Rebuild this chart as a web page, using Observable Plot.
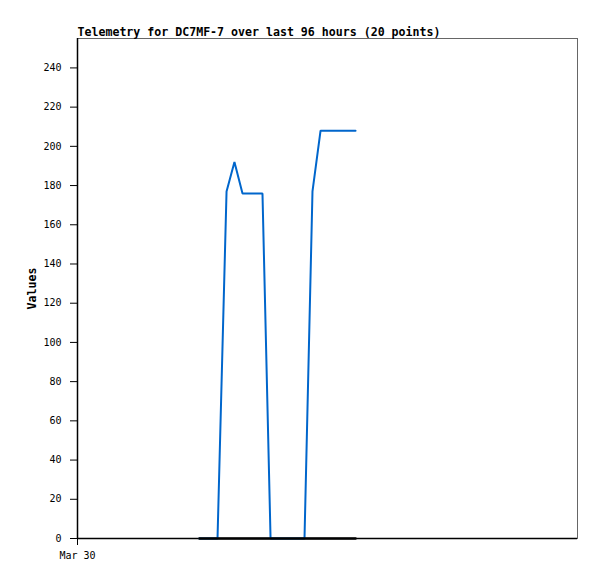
<!DOCTYPE html>
<html>
<head>
<meta charset="utf-8">
<script src="https://cdn.jsdelivr.net/npm/d3@7"></script>
<script src="https://cdn.jsdelivr.net/npm/@observablehq/plot@0.6"></script>
<style>
  html, body { margin: 0; padding: 0; background: #fff; }
  #chart svg { display: block; }
</style>
</head>
<body>
<div id="chart"></div>
<script>
const title = "Telemetry for DC7MF-7 over last 96 hours (20 points)";
const yLabel = "Values";
const times = [
  "2024-03-30T23:25Z", "2024-03-31T00:35Z", "2024-03-31T01:44Z", "2024-03-31T02:53Z",
  "2024-03-31T04:37Z", "2024-03-31T06:08Z", "2024-03-31T07:41Z", "2024-03-31T09:36Z",
  "2024-03-31T11:31Z", "2024-03-31T13:04Z", "2024-03-31T14:47Z", "2024-03-31T16:19Z",
  "2024-03-31T17:52Z", "2024-03-31T19:35Z", "2024-03-31T21:07Z", "2024-03-31T22:40Z",
  "2024-04-01T00:23Z", "2024-04-01T01:55Z", "2024-04-01T03:39Z", "2024-04-01T05:23Z"
];
const seriesA = [0, 0, 0, 0, 177, 192, 176, 176, 176, 0, 0, 0, 0, 0, 177, 208, 208, 208, 208, 208];
const seriesB = [0, 0, 0, 0, 0, 0, 0, 0, 0, 0, 0, 0, 0, 0, 0, 0, 0, 0, 0, 0];
const xDomain = ["2024-03-30T00:00Z", "2024-04-03T00:00Z"];
const xTicks = ["2024-03-30T00:00Z"];
const yTicks = [0, 20, 40, 60, 80, 100, 120, 140, 160, 180, 200, 220, 240];

const dataA = times.map((t, i) => ({t: new Date(t), v: seriesA[i]}));
const dataB = times.map((t, i) => ({t: new Date(t), v: seriesB[i]}));
const fmt = d3.utcFormat("%b %-d");

const chart = Plot.plot({
  width: 597,
  height: 579,
  marginTop: 38,
  marginLeft: 77,
  marginRight: 20,
  marginBottom: 41,
  style: {fontFamily: "'DejaVu Sans Mono', monospace", fontSize: "10px", color: "#000", background: "#fff"},
  x: {type: "utc", domain: xDomain.map(d => new Date(d)), ticks: xTicks.map(d => new Date(d)), tickFormat: fmt, tickSize: 7, tickPadding: 6, label: null},
  y: {domain: [0, 255], ticks: yTicks, tickSize: 7, tickPadding: 9, label: null},
  marks: [
    Plot.frame({stroke: "#666", strokeWidth: 1}),
    Plot.ruleX([new Date(xDomain[0])], {stroke: "#000", strokeWidth: 1.5}),
    Plot.ruleY([0], {stroke: "#000", strokeWidth: 1.5}),
    Plot.line(dataA, {x: "t", y: "v", stroke: "#0066cc", strokeWidth: 2, strokeLinejoin: "miter"}),
    Plot.line(dataB, {x: "t", y: "v", stroke: "#000", strokeWidth: 2.5}),
    Plot.text([title], {frameAnchor: "top-left", dy: -3, lineAnchor: "bottom", textAnchor: "start", fontWeight: "bold", fontSize: 11.6, fill: "#000"}),
    Plot.text([yLabel], {frameAnchor: "left", dx: -45, rotate: -90, textAnchor: "middle", lineAnchor: "middle", fontWeight: "bold", fontSize: 11.6, fill: "#000"})
  ]
});
document.getElementById("chart").appendChild(chart);
</script>
</body>
</html>
